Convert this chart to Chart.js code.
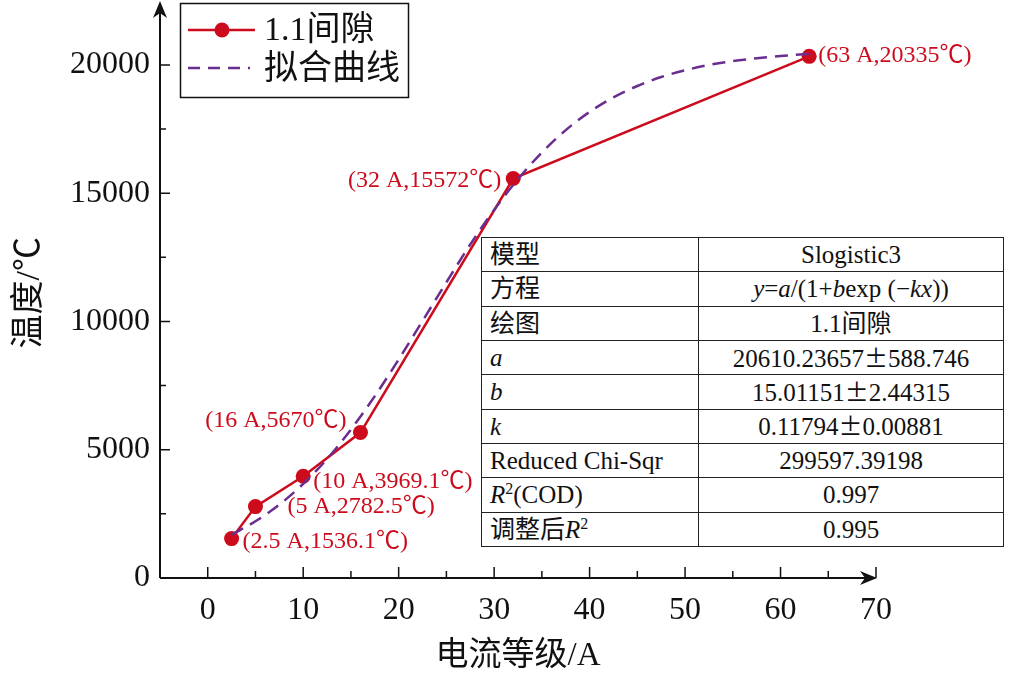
<!DOCTYPE html>
<html>
<head>
<meta charset="utf-8">
<script src="https://cdn.jsdelivr.net/npm/chart.js@4"></script>
<style>
  body { margin: 0; background: #fff; }
  #wrap { position: relative; width: 1020px; height: 676px; }
  #fitTable {
    position: absolute; left: 481px; top: 237px; width: 523px; height: 310px;
    border-collapse: collapse; background: #fff;
    font-family: "Liberation Serif", "Noto Sans CJK SC", serif; font-size: 25px; color: #111;
  }
  #fitTable td { border: 1.5px solid #222; padding: 0 8px; height: 33px; line-height: 1; }
  #fitTable td:first-child { width: 200px; text-align: left; }
  #fitTable td:last-child { text-align: center; }
  #fitTable sup { font-size: 16px; vertical-align: 9px; line-height: 0; }
  #fitTable .pm { font-family: "Noto Sans CJK SC", sans-serif; font-size: 24px; }
</style>
</head>
<body>
<div id="wrap">
  <canvas id="tempChart" width="1020" height="676"></canvas>
  <table id="fitTable"></table>
</div>
<script>
// measured points
const currents = [2.5, 5, 10, 16, 32, 63]
const temps = [1536.1, 2782.5, 3969.1, 5670, 15572, 20335]
const pointLabels = ['(2.5 A,1536.1℃)', '(5 A,2782.5℃)', '(10 A,3969.1℃)', '(16 A,5670℃)', '(32 A,15572℃)', '(63 A,20335℃)']

// fitted curve
const fitX = [2.5, 5, 7.5, 10, 12.5, 15, 17.5, 20, 22.5, 25, 27.5, 30, 32.5, 35, 37.5, 40, 42.5, 45, 47.5, 50, 52.5, 55, 57.5, 60, 63]
const fitY = [1690, 2210, 2860, 3670, 4640, 5790, 7090, 8520, 10020, 11530, 13000, 14350, 15550, 16590, 17460, 18170, 18740, 19180, 19530, 19790, 20000, 20150, 20260, 20350, 20430]

// axis ticks (labelled ones and minor ones)
const xTickValues = [0, 5, 10, 15, 20, 25, 30, 35, 40, 45, 50, 55, 60, 65, 70]
const xTickLabels = [0, 10, 20, 30, 40, 50, 60, 70]
const yTickValues = [0, 2500, 5000, 7500, 10000, 12500, 15000, 17500, 20000]
const yTickLabels = [0, 5000, 10000, 15000, 20000]

// fit result table
const tableKeys = ['模型', '方程', '绘图', '<i>a</i>', '<i>b</i>', '<i>k</i>', 'Reduced Chi-Sqr', '<i>R</i><sup>2</sup>(COD)', '调整后<i>R</i><sup>2</sup>']
const tableValues = ['Slogistic3', '<i>y</i>=<i>a</i>/(1+<i>b</i>exp (−<i>kx</i>))', '1.1间隙', '20610.23657±588.746', '15.01151±2.44315', '0.11794±0.00881', '299597.39198', '0.997', '0.995']

const RED = '#cc0c1c'
const PURPLE = '#6a2d90'
const SERIF = '"Liberation Serif", "Noto Sans CJK SC", serif'

let rows = ''
tableKeys.forEach((k, i) => {
    rows += '<tr><td>' + k + '</td><td>' + tableValues[i].replace('±', '<span class="pm">±</span>') + '</td></tr>'
})
document.getElementById('fitTable').innerHTML = rows

// axes with arrows, inward ticks, point labels and legend
const decorPlugin = {
    id: 'decor',
    afterDraw(chart) {
        const c = chart.ctx
        const xs = chart.scales.x
        const ys = chart.scales.y
        const a = chart.chartArea
        const topTip = 1
        c.save()
        c.strokeStyle = '#111'
        c.fillStyle = '#111'
        c.lineWidth = 2
        // axis lines
        c.beginPath()
        c.moveTo(a.left, a.bottom)
        c.lineTo(a.right - 4, a.bottom)
        c.moveTo(a.left, a.bottom)
        c.lineTo(a.left, topTip + 5)
        c.stroke()
        // arrow heads
        c.beginPath()
        c.moveTo(a.right + 1, a.bottom)
        c.lineTo(a.right - 16, a.bottom - 7)
        c.lineTo(a.right - 11, a.bottom)
        c.lineTo(a.right - 16, a.bottom + 7)
        c.closePath()
        c.fill()
        c.beginPath()
        c.moveTo(a.left, topTip)
        c.lineTo(a.left - 7, topTip + 17)
        c.lineTo(a.left, topTip + 12)
        c.lineTo(a.left + 7, topTip + 17)
        c.closePath()
        c.fill()
        // inward ticks, longer where labelled
        c.lineWidth = 1.5
        c.beginPath()
        xs.ticks.forEach(t => {
            const px = xs.getPixelForValue(t.value)
            const len = xTickLabels.includes(t.value) ? 11 : 7
            c.moveTo(px, a.bottom)
            c.lineTo(px, a.bottom - len)
        })
        ys.ticks.forEach(t => {
            if (t.value === 0) return
            const py = ys.getPixelForValue(t.value)
            const len = yTickLabels.includes(t.value) ? 10 : 6
            c.moveTo(a.left, py)
            c.lineTo(a.left + len, py)
        })
        c.stroke()

        // point labels
        const offs = [[11, 3, 'left'], [32, 0, 'left'], [10, 6, 'left'], [-14, -12, 'right'], [-12, 2, 'right'], [9, -1, 'left']]
        const meta = chart.getDatasetMeta(0)
        c.font = '24px ' + SERIF
        c.fillStyle = RED
        c.textBaseline = 'middle'
        meta.data.forEach((p, i) => {
            c.textAlign = offs[i][2]
            c.fillText(pointLabels[i], p.x + offs[i][0], p.y + offs[i][1])
        })

        // legend
        c.strokeStyle = '#111'
        c.lineWidth = 1.5
        c.strokeRect(180.5, 3.5, 228, 94)
        c.strokeStyle = RED
        c.lineWidth = 2.5
        c.beginPath()
        c.moveTo(188, 30)
        c.lineTo(255, 30)
        c.stroke()
        c.beginPath()
        c.arc(222, 30, 7.5, 0, Math.PI * 2)
        c.fill()
        c.strokeStyle = PURPLE
        c.setLineDash([12, 8])
        c.beginPath()
        c.moveTo(188, 68)
        c.lineTo(250, 68)
        c.stroke()
        c.setLineDash([])
        c.fillStyle = '#111'
        c.textAlign = 'left'
        c.font = '34px ' + SERIF
        c.fillText('1.1间隙', 264, 31)
        c.fillText('拟合曲线', 264, 70)
        c.restore()
    }
}

let chart = new Chart(document.getElementById('tempChart'), {
    type: 'line',
    data: {
        datasets: [
            {
                label: '1.1间隙',
                data: currents.map((x, i) => ({x: x, y: temps[i]})),
                borderColor: RED,
                backgroundColor: RED,
                borderWidth: 2.5,
                pointRadius: 7.5,
                pointHoverRadius: 7.5,
                pointBorderWidth: 0,
                order: 2
            },
            {
                label: '拟合曲线',
                data: fitX.map((x, i) => ({x: x, y: fitY[i]})),
                borderColor: PURPLE,
                borderWidth: 2.5,
                borderDash: [13, 8],
                pointRadius: 0,
                cubicInterpolationMode: 'monotone',
                order: 1
            }
        ]
    },
    options: {
        responsive: false,
        animation: false,
        layout: {padding: {left: 0, right: 144, top: 0, bottom: 0}},
        plugins: {legend: {display: false}, tooltip: {enabled: false}},
        scales: {
            x: {
                type: 'linear',
                min: -5,
                max: 70,
                border: {display: false},
                grid: {display: false, drawTicks: false},
                afterBuildTicks: s => { s.ticks = xTickValues.map(v => ({value: v})) },
                ticks: {
                    autoSkip: false,
                    maxRotation: 0,
                    padding: 13,
                    color: '#111',
                    font: {family: SERIF, size: 32},
                    callback: v => xTickLabels.includes(v) ? v : ''
                },
                title: {
                    display: true,
                    text: '电流等级/A',
                    color: '#111',
                    font: {family: SERIF, size: 33},
                    padding: {top: 0, bottom: 0}
                },
                afterFit: s => {
                    s.height = 98
                    s.paddingLeft = 0
                    s.paddingRight = 0
                }
            },
            y: {
                min: 0,
                max: 22240,
                border: {display: false},
                grid: {display: false, drawTicks: false},
                afterBuildTicks: s => { s.ticks = yTickValues.map(v => ({value: v})) },
                ticks: {
                    autoSkip: false,
                    padding: 10,
                    color: '#111',
                    font: {family: SERIF, size: 32},
                    callback: v => yTickLabels.includes(v) ? v : ''
                },
                title: {
                    display: true,
                    text: '温度/℃',
                    color: '#111',
                    font: {family: SERIF, size: 34},
                    padding: {top: 10, bottom: 0}
                },
                afterFit: s => {
                    s.width = 160
                    s.paddingTop = 0
                    s.paddingBottom = 0
                }
            }
        }
    },
    plugins: [decorPlugin]
})
</script>
</body>
</html>
